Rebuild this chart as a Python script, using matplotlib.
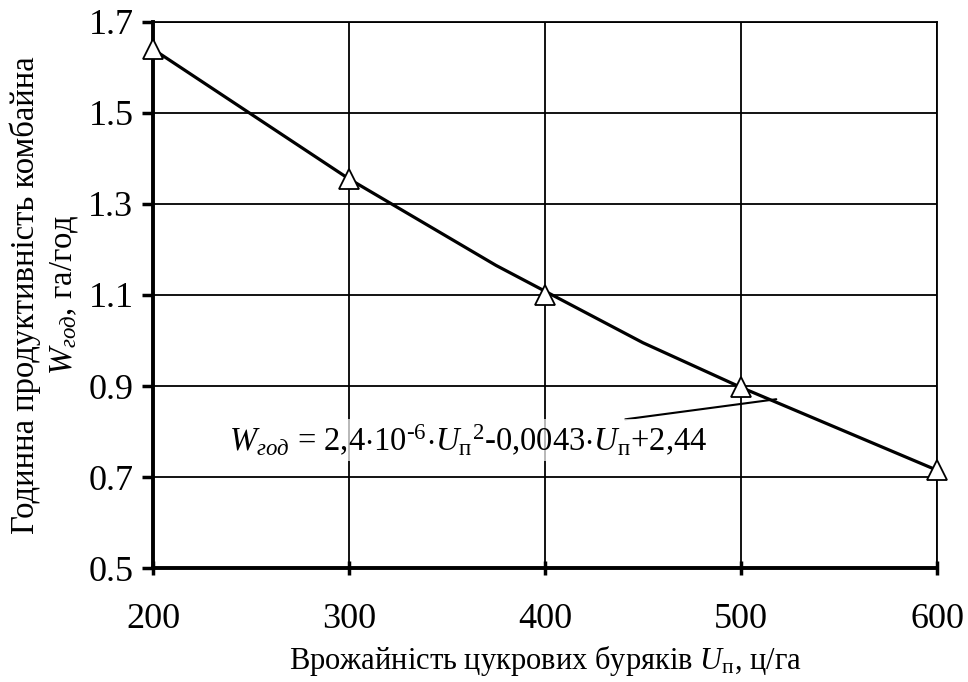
import matplotlib
matplotlib.use('Agg')
import matplotlib.pyplot as plt

plt.rcParams.update({
    'font.family': ['Liberation Serif', 'DejaVu Serif'],
    'mathtext.fontset': 'custom',
    'mathtext.rm': 'Liberation Serif',
    'mathtext.it': 'Liberation Serif:italic',
    'mathtext.bf': 'Liberation Serif:bold',
})

# ── Data ──────────────────────────────────────────────────────
yield_pts = [200, 300, 400, 500, 600]
prod_pts = [1.64, 1.355, 1.10, 0.897, 0.715]

# fitted curve as drawn (polyline)
curve_x = [200, 300, 375, 450, 500, 600]
curve_y = [1.64, 1.355, 1.165, 0.995, 0.897, 0.715]

x_ticks = [200, 300, 400, 500, 600]
y_ticks = [0.5, 0.7, 0.9, 1.1, 1.3, 1.5, 1.7]

fig = plt.figure(figsize=(9.68, 6.82), dpi=100)
ax = fig.add_axes([0.158, 0.167, 0.81, 0.801])

ax.plot(curve_x, curve_y, color='black', linewidth=2.3, zorder=3)
ax.plot(yield_pts, prod_pts, linestyle='none', marker='^', markersize=14,
        markerfacecolor='white', markeredgecolor='black', markeredgewidth=1.3,
        zorder=4, clip_on=False)

ax.set_xlim(200, 600)
ax.set_ylim(0.5, 1.7)
ax.set_xticks(x_ticks)
ax.set_yticks(y_ticks)
ax.set_yticklabels([f'{v:.1f}' for v in y_ticks])
ax.grid(True, color='black', linewidth=1.3)
ax.set_axisbelow(True)

for side in ['top', 'right']:
    ax.spines[side].set_linewidth(1.3)
for side in ['left', 'bottom']:
    ax.spines[side].set_linewidth(2.8)

ax.tick_params(axis='x', direction='inout', length=10, width=2.5,
               labelsize=26, pad=20)
ax.tick_params(axis='y', direction='out', length=8, width=2.5,
               labelsize=26, pad=6)

ax.set_xlabel(r'Врожайність цукрових буряків $U_{\mathrm{п}}$, ц/га',
              fontsize=22, labelpad=6)
ax.set_ylabel('Годинна продуктивність комбайна\n'
              r'$W_{год}$, га/год', fontsize=23.5, labelpad=6,
              linespacing=1.3)

ax.annotate(r'$W_{год}$ = 2,4$\cdot$10$^{\text{-6}}$$\cdot$$U_{\mathrm{п}}$$^{2}$'
            r'-0,0043$\cdot$$U_{\mathrm{п}}$+2,44',
            xy=(518, 0.871), xytext=(483, 0.781),
            ha='right', va='center', fontsize=23.5,
            arrowprops=dict(arrowstyle='-', color='black', linewidth=1.5,
                            shrinkA=0, shrinkB=0),
            bbox=dict(boxstyle='square,pad=0.1', facecolor='white',
                      edgecolor='none', alpha=0.7),
            zorder=2)

fig.savefig('out.png', dpi=100)
